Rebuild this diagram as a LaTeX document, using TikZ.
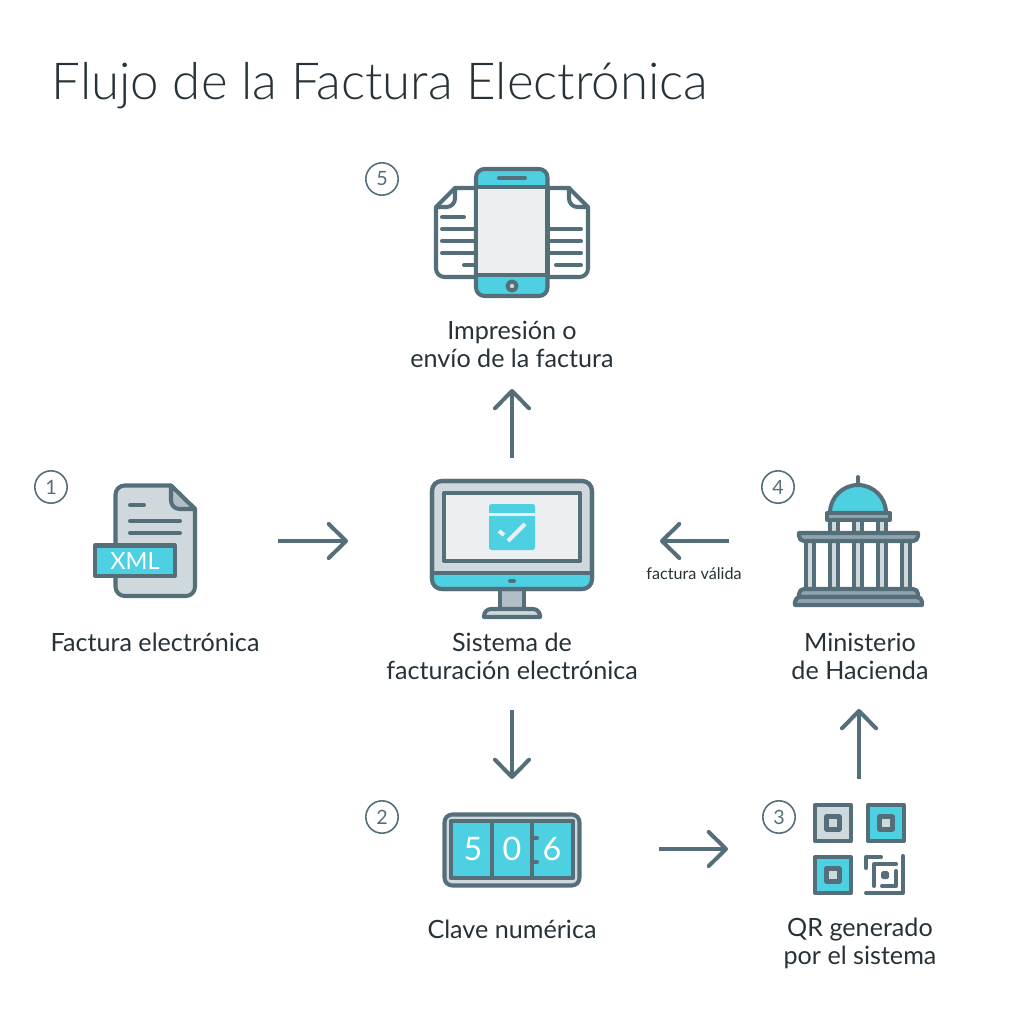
\documentclass[tikz,border=0pt]{standalone}
\usepackage{fontspec}
\setmainfont{Lato}
\newfontfamily\titlefont{Lato Light}
\usetikzlibrary{arrows.meta}
\definecolor{slate}{HTML}{546E7A}
\definecolor{ink}{HTML}{263238}
\definecolor{sky}{HTML}{4DD0E1}
\definecolor{paleA}{HTML}{ECEFF1}
\definecolor{paleB}{HTML}{CFD8DC}
\definecolor{paleC}{HTML}{B0BEC5}
\definecolor{paleD}{HTML}{90A4AE}
\tikzset{
  icon/.style={draw=slate,line width=1.15pt,line join=round,line cap=round},
  flowarrow/.style={draw=slate,line width=1.15pt,-{Straight Barb[length=4.9pt,width=9.7pt,round]}},
  stepmark/.style={circle,draw=slate,line width=.45pt,minimum size=9.2pt,inner sep=0pt,text=slate,font=\fontsize{5.6}{7}\selectfont},
  caption/.style={text=ink,align=center,inner sep=0pt,font=\fontsize{7.15}{8}\selectfont},
}
\def\docrules{(442,229) -- (474,229) (442,241) -- (474,241) (442,253) -- (474,253) (442,217) -- (464,217) (464,265) -- (474,265)}
\def\docrulesB{(550,229) -- (581,229) (550,241) -- (581,241) (550,253) -- (581,253) (556,265) -- (581,265)}
\begin{document}
\begin{tikzpicture}[x=.01cm,y=-.01cm]
  \useasboundingbox (0,0) rectangle (1024,1024);
  \node[anchor=base west,inner sep=0pt,text=ink,font=\titlefont\fontsize{14.5}{16}\selectfont] (title) at (51,100) {Flujo de la Factura Electrónica};

  % phone and the two papers
  \draw[icon,fill=white] (476,277) [rounded corners=2.4pt] -- (436,277) [sharp corners] -- (436,207) -- (455,188) -- (476,188);
  \draw[icon] (455,188) [rounded corners=2.4pt] -- (455,207) [sharp corners] -- (438,207);
  \draw[icon,fill=white] (548,277) [rounded corners=2.4pt] -- (588,277) [sharp corners] -- (588,207) -- (569,188) -- (548,188);
  \draw[icon] (569,188) [rounded corners=2.4pt] -- (569,207) [sharp corners] -- (586,207);
  \draw[icon] \docrules \docrulesB;
  \draw[icon,fill=sky,rounded corners=2.4pt] (476,169) rectangle (547.5,296);
  \draw[icon,fill=paleA] (476,187) rectangle (547.5,275);
  \draw[icon] (499,178) -- (525,178);
  \draw[icon,fill=paleB] (512,286) circle (4.5);

  % xml file
  \draw[icon,fill=paleB] (171,485.5) [rounded corners=2.6pt] -- (115.5,485.5) -- (115.5,596) -- (195,596) [sharp corners] -- (195,509) -- cycle;
  \draw[icon,fill=paleC] (171,485.5) [rounded corners=2.4pt] -- (171,509) [sharp corners] -- (195,509) -- cycle;
  \draw[icon] (130,505) -- (144,505) (130,521) -- (180,521) (130,533) -- (180,533);
  \draw[icon,fill=sky] (95,545.5) rectangle (175,576);
  \node[inner sep=0pt,text=white,font=\fontsize{6.7}{8}\selectfont] (xmltag) at (135,561) {XML};

  % monitor
  \draw[icon,fill=paleC] (500,589) rectangle (524,609);
  \draw[icon,fill=paleB] (484,617) [rounded corners=2pt] -- (484,609) -- (540,609) [sharp corners] -- (540,617) -- cycle;
  \draw[icon,fill=paleB,rounded corners=2.8pt] (432,481) rectangle (592,589);
  \begin{scope}
    \clip[rounded corners=2.8pt] (432,481) rectangle (592,589);
    \fill[sky] (432,573) rectangle (592,589);
  \end{scope}
  \draw[icon,rounded corners=2.8pt] (432,481) rectangle (592,589);
  \draw[icon] (432,573) -- (592,573);
  \draw[icon,fill=paleA,line cap=butt] (444,493) rectangle (580,561);
  \draw[icon] (510,581) -- (514,581);
  \fill[sky,rounded corners=.7pt] (489,504) rectangle (535,550);
  \draw[paleA,line width=.6pt] (489,514.5) -- (535,514.5);
  \draw[paleA,line width=1.15pt] (508,541) -- (525,524) (499,531) -- (504,535);

  % ministry
  \draw[icon] (858,477) -- (858,487);
  \draw[icon,fill=sky] (830,513) arc (180:360:28) -- cycle;
  \foreach \colx in {834,858,882} {
    \draw[icon,fill=paleB,line cap=butt] (\colx-4,520) rectangle (\colx+4,533);
  }
  \draw[icon,fill=paleD] (827,513) rectangle (890,520);
  \foreach \colx in {810,834,858,882,906} {
    \draw[icon,fill=paleB,line cap=butt] (\colx-4,541) rectangle (\colx+4,589);
  }
  \draw[icon,fill=paleD] (799,533) -- (918,533) [rounded corners=1.4pt] -- (918,541) -- (799,541) [sharp corners] -- cycle;
  \draw[icon,fill=paleD] (799,597) [rounded corners=1.4pt] -- (799,589) -- (918,589) [sharp corners] -- (918,597) -- cycle;
  \draw[icon,fill=paleD] (795,605) [rounded corners=1.4pt] -- (795,597) -- (922,597) [sharp corners] -- (922,605) -- cycle;

  % counter
  \draw[icon,fill=paleB,rounded corners=2.2pt] (444.5,814.5) rectangle (579.5,885.5);
  \draw[icon,fill=sky] (451,821) rectangle (573,878);
  \draw[icon,line cap=butt] (492,821) -- (492,878) (532,821) -- (532,878);
  \draw[icon] (534,838) -- (537,838) (534,862) -- (537,862);
  \foreach \digit/\digx in {5/473,0/512,6/552} {
    \node[inner sep=0pt,text=white,font=\fontsize{9.2}{10}\selectfont] (digit\digit) at (\digx,849) {\digit};
  }

  % qr marks
  \foreach \qrx/\qry/\qrfill in {815/805/paleB,868/805/sky,815/857/sky} {
    \draw[icon,fill=\qrfill] (\qrx,\qry) rectangle ++(36,36);
    \draw[icon,fill=paleB] (\qrx+11.5,\qry+11.5) rectangle ++(13,13);
  }
  \draw[icon] (866,868) -- (866,857) -- (881,857) (903,856) -- (903,893) -- (866,893)
    (896,864) -- (874,864) -- (874,886) (896,871) -- (896,886) -- (882,886);
  \fill[slate,rounded corners=.5pt] (881,871) rectangle (889,879);

  % step numbers
  \node[stepmark] (one) at (51,487) {1};
  \node[stepmark] (two) at (382,817) {2};
  \node[stepmark] (three) at (779,817) {3};
  \node[stepmark] (four) at (778,487) {4};
  \node[stepmark] (five) at (382,179) {5};

  % captions
  \node[caption] (printcap) at (512,344) {Impresión o\\envío de la factura};
  \node[caption] (filecap) at (155,642) {Factura electrónica};
  \node[caption] (syscap) at (512,656) {Sistema de\\facturación electrónica};
  \node[caption] (mincap) at (860,656) {Ministerio\\de Hacienda};
  \node[caption] (keycap) at (512,929) {Clave numérica};
  \node[caption] (qrcap) at (860,943) {QR generado\\por el sistema};
  \node[caption,font=\fontsize{4.6}{5}\selectfont] (validcap) at (694,574) {factura válida};

  % arrows
  \coordinate (fileout) at (278,541);
  \coordinate (sysin) at (348,541);
  \coordinate (sysup) at (512,458);
  \coordinate (printin) at (512,389);
  \coordinate (minout) at (729,541);
  \coordinate (sysright) at (660,541);
  \coordinate (sysdown) at (512,710);
  \coordinate (keyin) at (512,779);
  \coordinate (keyout) at (659,849);
  \coordinate (qrin) at (728,849);
  \coordinate (qrout) at (859,779);
  \coordinate (minin) at (859,709);
  \draw[flowarrow] (fileout) -- (sysin);
  \draw[flowarrow] (sysup) -- (printin);
  \draw[flowarrow] (minout) -- (sysright);
  \draw[flowarrow] (sysdown) -- (keyin);
  \draw[flowarrow] (keyout) -- (qrin);
  \draw[flowarrow] (qrout) -- (minin);
\end{tikzpicture}
\end{document}
